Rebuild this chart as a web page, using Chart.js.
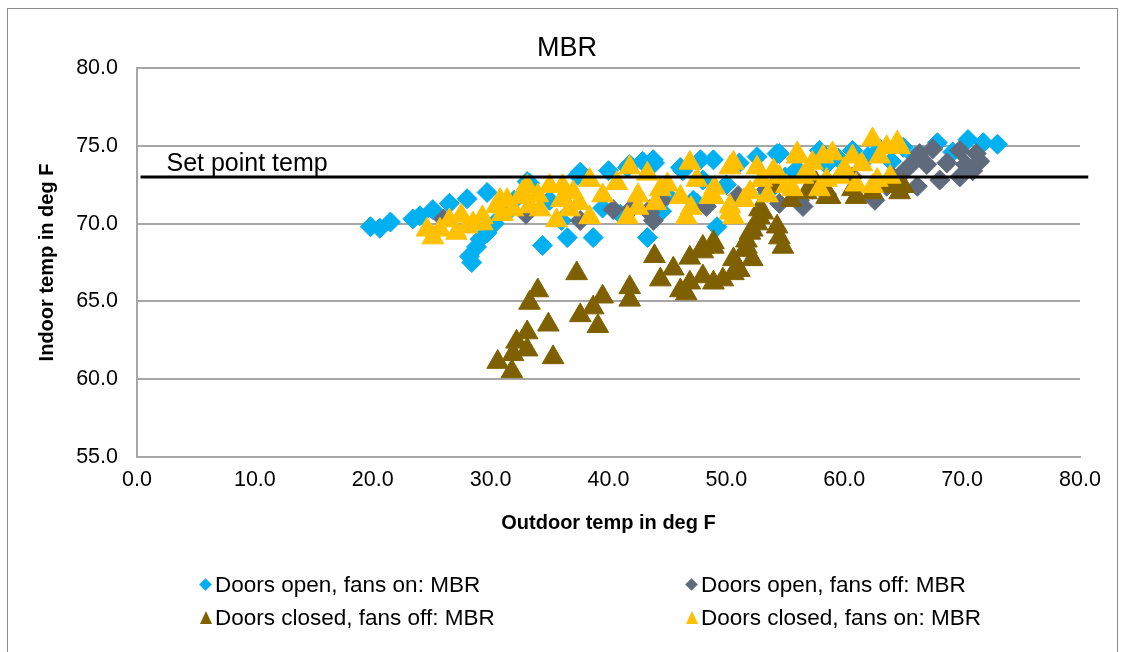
<!DOCTYPE html>
<html>
<head>
<meta charset="utf-8">
<title>MBR</title>
<script src="https://cdn.jsdelivr.net/npm/chart.js@4.4.1/dist/chart.umd.min.js"></script>
<style>
  html, body { margin: 0; padding: 0; background: #fff; }
  #wrap { position: relative; width: 1124px; height: 652px; overflow: hidden; }
  #frame { position: absolute; left: 7px; top: 8px; width: 1111px; height: 700px; border: 1px solid #8c8c8c; box-sizing: border-box; }
  #chart { position: absolute; left: 0; top: 0; }
  .item { position: absolute; font-family: "Liberation Sans", Arial, sans-serif; font-size: 22.5px; color: #000; white-space: nowrap; line-height: 24px; }
  .mk { display: inline-block; vertical-align: middle; margin-right: 3px; }
  .dia { width: 9px; height: 9px; transform: rotate(45deg); margin-left: 2px; margin-right: 5px; position: relative; top: -2px; }
  .tri { width: 0; height: 0; border-left: 6px solid transparent; border-right: 6px solid transparent; position: relative; top: -2px; }
</style>
</head>
<body>
<div id="wrap">
  <div id="frame"></div>
  <canvas id="chart" width="1124" height="652"></canvas>
  <div class="item" style="left:199px; top:573px;"><span class="mk dia" style="background:#00B0F0"></span>Doors open, fans on: MBR</div>
  <div class="item" style="left:685px; top:573px;"><span class="mk dia" style="background:#5F6B7D"></span>Doors open, fans off: MBR</div>
  <div class="item" style="left:200px; top:606px;"><span class="mk tri" style="border-bottom:13px solid #7F6000"></span>Doors closed, fans off: MBR</div>
  <div class="item" style="left:686px; top:606px;"><span class="mk tri" style="border-bottom:13px solid #FFC000"></span>Doors closed, fans on: MBR</div>
</div>
<script>
// Axis ticks
const xTicks = [0, 10, 20, 30, 40, 50, 60, 70, 80];
const yTicks = [55, 60, 65, 70, 75, 80];

// Set point line
const setPointText = 'Set point temp';
const setPointX = [0.3, 80.7];
const setPointY = [73, 73];

// Doors open, fans on
const openOnX = [19.8, 20.6, 21.5, 23.4, 24.0, 25.1, 26.5, 28.0, 29.7, 28.2, 28.4, 28.8, 29.1, 29.7, 30.3,
  33.1, 34.4, 36.5, 38.7, 33.3, 37.4, 40.0, 41.6, 42.9, 43.9, 46.3, 43.3, 47.2, 37.6, 41.8,
  43.8, 46.1, 48.9, 52.6, 54.5, 47.8, 51.1, 54.3, 57.9, 60.7, 49.2, 47.5, 67.9, 69.2, 70.5,
  71.8, 73.0, 35.0, 39.5, 45.0, 50.0, 53.5, 56.0, 58.5, 62.0, 64.0, 66.0, 31.5, 32.0, 36.0,
  41.0, 44.5, 48.0, 55.0, 59.5, 63.0, 65.0];
const openOnY = [69.8, 69.7, 70.1, 70.3, 70.5, 70.9, 71.3, 71.6, 72.0, 67.9, 67.5, 68.5, 69.0, 69.4, 70.0,
  72.7, 68.6, 69.1, 69.1, 72.6, 73.1, 73.4, 73.6, 74.0, 73.9, 73.4, 69.1, 71.5, 73.3, 73.8,
  74.1, 73.6, 74.1, 74.3, 74.5, 74.1, 73.9, 74.5, 74.7, 74.7, 69.8, 71.3, 75.2, 74.6, 75.4,
  75.2, 75.1, 71.5, 71.0, 71.8, 72.5, 72.0, 73.5, 73.8, 74.3, 74.0, 74.3, 70.8, 71.5, 70.2,
  70.6, 70.8, 72.8, 73.0, 74.2, 74.8, 74.9];

// Doors open, fans off
const openOffX = [26.0, 33.0, 37.6, 40.4, 42.0, 43.5, 43.8, 43.5, 44.5, 48.3, 53.4, 56.2, 56.5, 57.3, 60.7,
  62.6, 63.6, 64.1, 65.0, 66.2, 66.4, 67.0, 68.1, 68.7, 69.8, 69.8, 70.9, 71.2, 71.5, 67.5,
  65.8, 70.3, 51.0, 54.5, 58.5];
const openOffY = [70.3, 70.6, 70.2, 70.9, 71.0, 70.9, 70.2, 70.7, 71.5, 71.1, 72.2, 71.5, 71.1, 72.2, 73.0,
  71.5, 72.4, 73.0, 73.3, 72.4, 74.5, 73.8, 72.8, 73.9, 74.7, 73.0, 73.4, 74.5, 74.0, 74.8,
  73.9, 73.8, 71.8, 71.3, 71.9];

// Doors closed, fans off
const closedOffX = [30.6, 31.8, 31.9, 32.2, 33.1, 33.1, 33.3, 34.0, 34.9, 35.3, 37.3, 37.6, 38.7, 39.1, 39.5,
  41.8, 41.8, 43.9, 44.4, 45.5, 46.1, 46.6, 46.9, 46.9, 48.0, 48.0, 48.9, 48.9, 49.7, 50.6,
  51.1, 51.7, 52.2, 52.8, 52.6, 52.0, 51.7, 54.5, 54.8, 50.6, 50.9, 54.0, 57.3, 58.8, 61.0,
  62.4, 48.0, 48.9, 51.7, 52.2, 52.8, 53.1, 54.3, 56.8, 58.5, 60.7, 63.9, 64.1, 64.7, 65.0,
  57.6, 55.5];
const closedOffY = [61.1, 60.5, 61.6, 62.4, 63.0, 61.9, 64.9, 65.7, 63.5, 61.4, 66.8, 64.1, 64.6, 63.4, 65.3,
  65.9, 65.1, 67.9, 66.4, 67.1, 65.7, 65.5, 66.2, 67.8, 68.2, 66.6, 66.2, 68.5, 66.4, 66.8,
  67.0, 68.3, 67.7, 70.9, 70.0, 69.4, 68.5, 69.1, 68.5, 67.7, 67.2, 72.4, 72.4, 71.7, 71.7,
  72.0, 68.5, 68.8, 68.9, 69.6, 70.4, 70.7, 69.8, 72.0, 71.7, 72.2, 72.4, 72.4, 72.0, 72.4,
  72.6, 71.5];

// Doors closed, fans on
const closedOnX = [24.6, 25.1, 25.7, 26.5, 27.1, 28.5, 29.3, 29.3, 30.5, 30.8, 31.4, 31.9, 32.5, 32.7, 33.1,
  33.3, 34.2, 35.0, 35.6, 36.1, 36.7, 37.0, 38.4, 38.4, 40.7, 41.6, 41.8, 43.3, 44.4, 46.1,
  46.6, 46.9, 48.6, 48.9, 50.3, 50.3, 50.3, 50.6, 50.6, 52.6, 54.0, 55.1, 55.6, 56.0, 56.0,
  57.3, 57.9, 58.2, 59.0, 59.6, 60.7, 62.4, 62.4, 62.8, 63.6, 63.9, 64.5, 64.7, 39.5, 45.0,
  47.5, 52.0, 53.5, 27.5, 36.0, 42.5, 57.0, 61.5, 42.5, 44.0, 47.0, 49.0, 51.5, 53.0, 54.5,
  56.5, 58.5, 60.0, 61.0, 63.0, 37.5, 34.0, 31.0, 28.0];
const closedOnY = [69.6, 69.1, 69.6, 70.2, 69.4, 70.0, 70.0, 70.4, 71.1, 71.5, 71.5, 70.9, 71.7, 72.0, 72.4,
  71.1, 70.9, 72.4, 70.2, 72.4, 70.9, 72.0, 70.4, 72.8, 72.6, 70.4, 73.6, 73.2, 72.2, 71.7,
  70.4, 73.9, 71.7, 71.7, 71.1, 73.6, 70.7, 73.9, 70.4, 73.6, 73.4, 72.4, 72.2, 74.5, 74.3,
  73.9, 72.2, 74.3, 74.5, 73.0, 74.3, 75.4, 72.4, 72.8, 74.9, 73.0, 75.2, 74.9, 71.8, 72.5,
  72.8, 72.0, 71.8, 70.5, 71.5, 71.8, 73.2, 73.8, 71.0, 71.3, 71.0, 72.3, 71.5, 72.8, 73.0,
  73.0, 72.8, 73.5, 72.5, 74.3, 71.3, 71.8, 70.6, 69.8];

const FONT = '"Liberation Sans", Arial, sans-serif';

function pts(xs, ys) {
  return xs.map((x, i) => ({ x: x, y: ys[i] }));
}

// "Set point temp" label sits just above the line
const setPointLabel = {
  id: 'setPointLabel',
  afterDatasetsDraw(chart) {
    const { ctx, scales: { x, y } } = chart;
    ctx.save();
    ctx.font = '25px ' + FONT;
    ctx.fillStyle = '#000';
    ctx.textBaseline = 'alphabetic';
    ctx.textAlign = 'left';
    ctx.fillText(setPointText, x.getPixelForValue(2.5), y.getPixelForValue(setPointY[0]) - 6);
    ctx.restore();
  }
};

const ctx = document.getElementById('chart').getContext('2d');
const chart = new Chart(ctx, {
  type: 'scatter',
  data: {
    datasets: [{
      label: 'Set point',
      type: 'line',
      data: pts(setPointX, setPointY),
      borderColor: '#000',
      borderWidth: 3,
      pointRadius: 0,
      clip: false,
      order: 0
    }, {
      label: 'Doors closed, fans on: MBR',
      data: pts(closedOnX, closedOnY),
      pointStyle: 'triangle',
      pointRadius: 12.5,
      backgroundColor: '#FFC000',
      borderColor: '#FFC000',
      borderWidth: 1,
      order: 1
    }, {
      label: 'Doors closed, fans off: MBR',
      data: pts(closedOffX, closedOffY),
      pointStyle: 'triangle',
      pointRadius: 12.5,
      backgroundColor: '#7F6000',
      borderColor: '#7F6000',
      borderWidth: 1,
      order: 2
    }, {
      label: 'Doors open, fans off: MBR',
      data: pts(openOffX, openOffY),
      pointStyle: 'rectRot',
      pointRadius: 10,
      backgroundColor: '#5F6B7D',
      borderColor: '#5F6B7D',
      borderWidth: 1,
      order: 3
    }, {
      label: 'Doors open, fans on: MBR',
      data: pts(openOnX, openOnY),
      pointStyle: 'rectRot',
      pointRadius: 10,
      backgroundColor: '#00B0F0',
      borderColor: '#00B0F0',
      borderWidth: 1,
      order: 4
    }]
  },
  options: {
    responsive: false,
    animation: false,
    layout: { padding: { left: 10, right: 0, top: 20, bottom: 112 } },
    plugins: {
      legend: { display: false },
      tooltip: { enabled: false },
      title: {
        display: true,
        text: 'MBR',
        color: '#000',
        font: { family: FONT, size: 27, weight: 'normal' },
        padding: { top: 12, bottom: 3.6 }
      }
    },
    scales: {
      x: {
        type: 'linear',
        min: xTicks[0],
        max: xTicks[xTicks.length - 1],
        afterBuildTicks(scale) { scale.ticks = xTicks.map(v => ({ value: v })); },
        afterFit(scale) { scale.height = 83; scale.paddingRight = 44; },
        ticks: {
          color: '#000',
          padding: 10,
          font: { family: FONT, size: 21.5 },
          callback: v => Number(v).toFixed(1)
        },
        grid: { display: false, drawTicks: false },
        border: { display: true, color: '#a6a6a6', width: 2 },
        title: {
          display: true,
          text: 'Outdoor temp in deg F',
          color: '#000',
          font: { family: FONT, size: 20, weight: 'bold' },
          padding: { top: 0, bottom: 5 }
        }
      },
      y: {
        type: 'linear',
        min: yTicks[0],
        max: yTicks[yTicks.length - 1],
        afterBuildTicks(scale) { scale.ticks = yTicks.map(v => ({ value: v })); },
        afterFit(scale) { scale.width = 127; },
        ticks: {
          color: '#000',
          padding: 19,
          font: { family: FONT, size: 21.5 },
          callback: v => Number(v).toFixed(1)
        },
        grid: { color: '#a6a6a6', lineWidth: 2, drawTicks: false },
        border: { display: true, color: '#a6a6a6', width: 2 },
        title: {
          display: true,
          text: 'Indoor temp in deg F',
          color: '#000',
          font: { family: FONT, size: 20, weight: 'bold' },
          padding: { top: 25, bottom: 0 }
        }
      }
    }
  },
  plugins: [setPointLabel]
});
</script>
</body>
</html>
